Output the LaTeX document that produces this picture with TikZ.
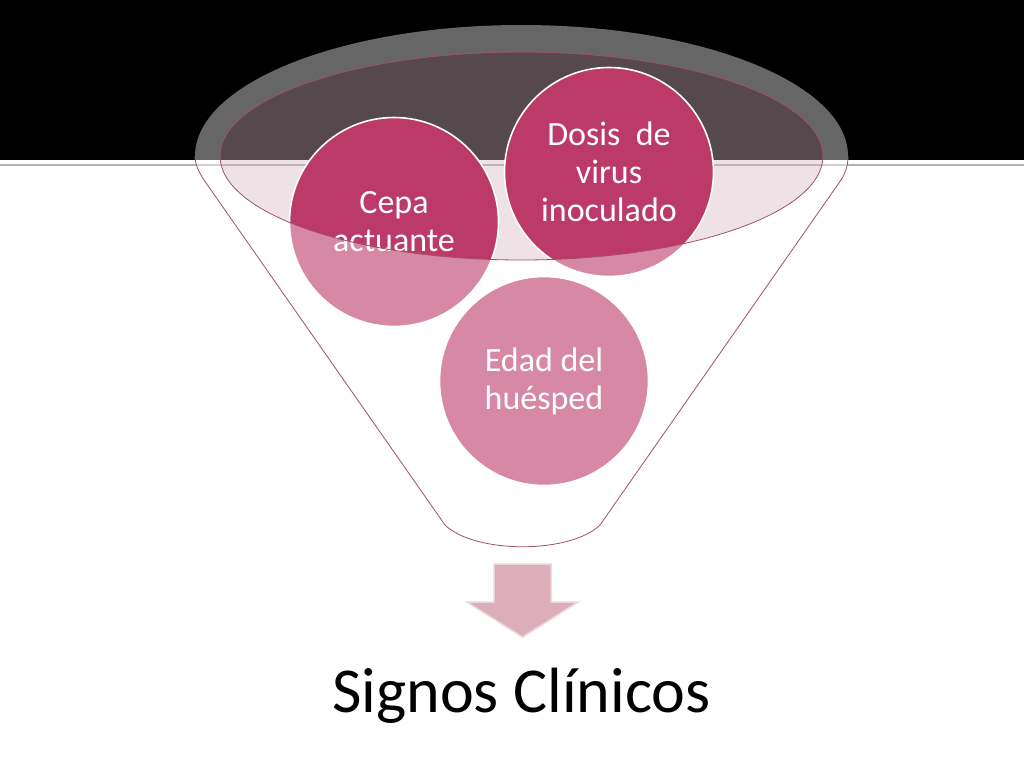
\documentclass[tikz,border=0pt]{standalone}
\usepackage{fontspec}
\setmainfont{Carlito}
\usepackage{xcolor}
\usepackage{tikz}
\usetikzlibrary{positioning}
\definecolor{rosa}{RGB}{187,58,104}
\definecolor{rosaclaro}{RGB}{215,183,196}
\definecolor{borde}{RGB}{160,80,110}
\definecolor{flechafill}{RGB}{219,174,185}
\definecolor{flechaborde}{RGB}{238,212,220}
\tikzstyle{bola}   = [circle, minimum size=209pt, inner sep=0pt, fill=rosa, draw=white, line width=1.6pt, text=white, font=\fontsize{34}{38}\selectfont]
\tikzstyle{flecha} = [fill=flechafill, draw=flechaborde, line width=1.5pt]
\tikzstyle{linea}  = [draw=borde, line width=0.8pt]
\tikzset{every node/.style={align=center}}

\begin{document}
\begin{tikzpicture}[x=1pt, y=-1pt]
  \useasboundingbox (0,0) rectangle (1024,768);
  % Background
  \fill[white] (0,0) rectangle (1024,768);
  \fill[black] (0,0) rectangle (1024,160);
  \draw[black!30, line width=1.8pt] (0,165) -- (1024,165);
  % Funnel mouth
  \fill[rosaclaro, opacity=0.4] (521.5,156) ellipse[x radius=301.5, y radius=104];
  % Circles
  \node[bola] (cepa)  at (394,222) {Cepa\\actuante};
  \node[bola] (dosis) at (609,172) {Dosis~ de\\virus\\inoculado};
  \node[bola] (edad)  at (544,381) {Edad del\\huésped};
  % Funnel body (mouth left open)
  \fill[white, opacity=0.4, even odd rule]
    (195,156) arc[start angle=180, end angle=360, x radius=326.5, y radius=131]
    .. controls (848,165) and (846,172) .. (841,180) -- (600,525)
    .. controls (570,554) and (475,554) .. (445,525) -- (204,180)
    .. controls (199,172) and (195,165) .. (195,156) -- cycle
    (521.5,156) ellipse[x radius=301.5, y radius=104];
  \draw[linea] (848,156)
    .. controls (848,165) and (846,172) .. (841,180) -- (600,525)
    .. controls (570,554) and (475,554) .. (445,525) -- (204,180)
    .. controls (199,172) and (195,165) .. (195,156);
  \draw[linea] (521.5,156) ellipse[x radius=301.5, y radius=104];
  % Arrow
  \filldraw[flecha] (494,564) -- (551,564) -- (551,602) -- (578,602)
    -- (522.5,637) -- (467,602) -- (494,602) -- cycle;
  % Result
  \node[anchor=base, font=\fontsize{64}{70}\selectfont] (signos) at (521.5,712) {Signos Clínicos};
\end{tikzpicture}
\end{document}
